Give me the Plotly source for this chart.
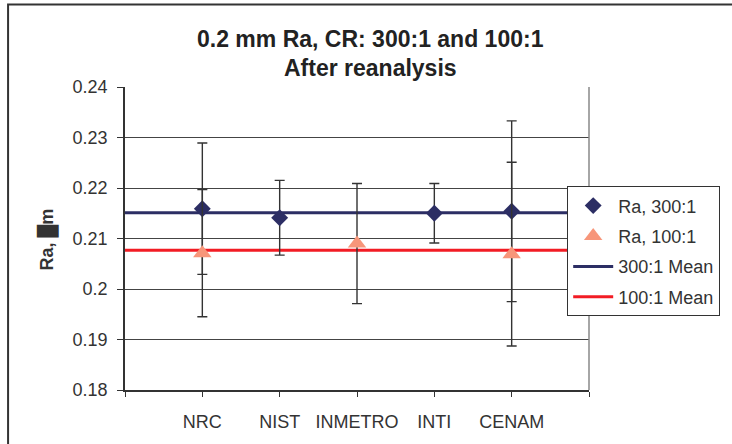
import numpy as np
import plotly.graph_objects as go

# Laboratories along the x axis
labs = ["NRC", "NIST", "INMETRO", "INTI", "CENAM"]

# Ra results (µm) and expanded uncertainties, 300:1 compression ratio
ra_300 = [0.2159, 0.2141, None, 0.2150, 0.2154]
unc_300 = [0.0130, 0.0074, None, 0.0059, 0.0179]

# Ra results (µm) and expanded uncertainties, 100:1 compression ratio
ra_100 = [0.2071, None, 0.2090, None, 0.2069]
unc_100 = [0.0126, None, 0.0119, None, 0.0182]

y_ticks = [0.18, 0.19, 0.20, 0.21, 0.22, 0.23, 0.24]
y_tick_text = ["0.18", "0.19", "0.2", "0.21", "0.22", "0.23", "0.24"]

NAVY = "#2C2E64"
SALMON = "#F7967A"
RED = "#F21C24"
FONT = "Liberation Sans, Arial, sans-serif"


def present(vals, errs):
    xs, ys, es = [], [], []
    for i, (v, e) in enumerate(zip(vals, errs)):
        if v is not None:
            xs.append(i)
            ys.append(v)
            es.append(e)
    return xs, ys, es


x3, y3, e3 = present(ra_300, unc_300)
x1, y1, e1 = present(ra_100, unc_100)
mean_300 = float(np.mean(y3))
mean_100 = float(np.mean(y1))

fig = go.Figure()

# Mean lines across the full plot width
fig.add_trace(go.Scatter(
    x=[-1, 5], y=[mean_300, mean_300], mode="lines", name="300:1 Mean",
    line=dict(color=NAVY, width=3), legendgroup="c", legendrank=3,
    hoverinfo="skip"))
fig.add_trace(go.Scatter(
    x=[-1, 5], y=[mean_100, mean_100], mode="lines", name="100:1 Mean",
    line=dict(color=RED, width=3), legendgroup="d", legendrank=4,
    hoverinfo="skip"))

err_style = dict(type="data", thickness=1.4, width=5, color="#333333")

fig.add_trace(go.Scatter(
    x=x3, y=y3, mode="markers", name="Ra, 300:1",
    marker=dict(symbol="diamond", size=13, color=NAVY),
    error_y=dict(array=e3, **err_style), legendgroup="a", legendrank=1))
fig.add_trace(go.Scatter(
    x=x1, y=y1, mode="markers", name="Ra, 100:1",
    marker=dict(symbol="triangle-up", size=16, color=SALMON),
    error_y=dict(array=e1, **err_style), legendgroup="b", legendrank=2))

fig.update_layout(
    width=732, height=444,
    margin=dict(l=125, r=143, t=87, b=51),
    paper_bgcolor="white", plot_bgcolor="white",
    font=dict(family=FONT, size=18, color="#333333"),
    showlegend=True,
    legend=dict(
        x=0.953, y=0.672, xanchor="left", yanchor="top",
        bgcolor="white", bordercolor="#333333", borderwidth=1,
        font=dict(size=18, color="#333333"),
        traceorder="grouped", tracegroupgap=4,
        itemwidth=40,
    ),
    xaxis=dict(
        range=[-1, 5],
        tickvals=[-1, 0, 1, 2, 3, 4, 5],
        ticktext=[""] + labs + [""],
        ticks="outside", ticklen=5, tickcolor="#333333",
        showgrid=False, zeroline=False,
        showline=True, linecolor="#333333", linewidth=1.5,
        ticklabelstandoff=10,
        tickfont=dict(size=18, color="#333333"),
    ),
    yaxis=dict(
        range=[0.18, 0.24],
        tickvals=y_ticks, ticktext=y_tick_text,
        ticks="outside", ticklen=6, tickcolor="#333333",
        showgrid=True, gridcolor="#444444", gridwidth=1,
        zeroline=False,
        showline=True, linecolor="#333333", linewidth=1.5,
        ticklabelstandoff=6,
        tickfont=dict(size=18, color="#333333"),
    ),
    shapes=[
        # right edge of the plot area
        dict(type="line", xref="paper", yref="paper", x0=1, x1=1, y0=0, y1=1,
             line=dict(color="#888888", width=1.5)),
        # outer frame of the chart
        dict(type="rect", xref="paper", yref="paper",
             x0=-0.252, x1=2, y0=-1, y1=1.272,
             line=dict(color="#333333", width=2)),
    ],
    annotations=[
        dict(text="<b>0.2 mm Ra, CR: 300:1 and 100:1</b>", xref="paper", yref="paper",
             x=0.530, y=1.160, xanchor="center", yanchor="middle", showarrow=False,
             font=dict(size=23, color="#222222")),
        dict(text="<b>After reanalysis</b>", xref="paper", yref="paper",
             x=0.530, y=1.062, xanchor="center", yanchor="middle", showarrow=False,
             font=dict(size=23, color="#222222")),
        dict(text="<b>Ra, █m</b>", xref="paper", yref="paper",
             x=-0.168, y=0.497, xanchor="center", yanchor="middle", showarrow=False,
             textangle=-90, font=dict(size=18, color="#333333")),
    ],
)

fig.write_html("out.html")
